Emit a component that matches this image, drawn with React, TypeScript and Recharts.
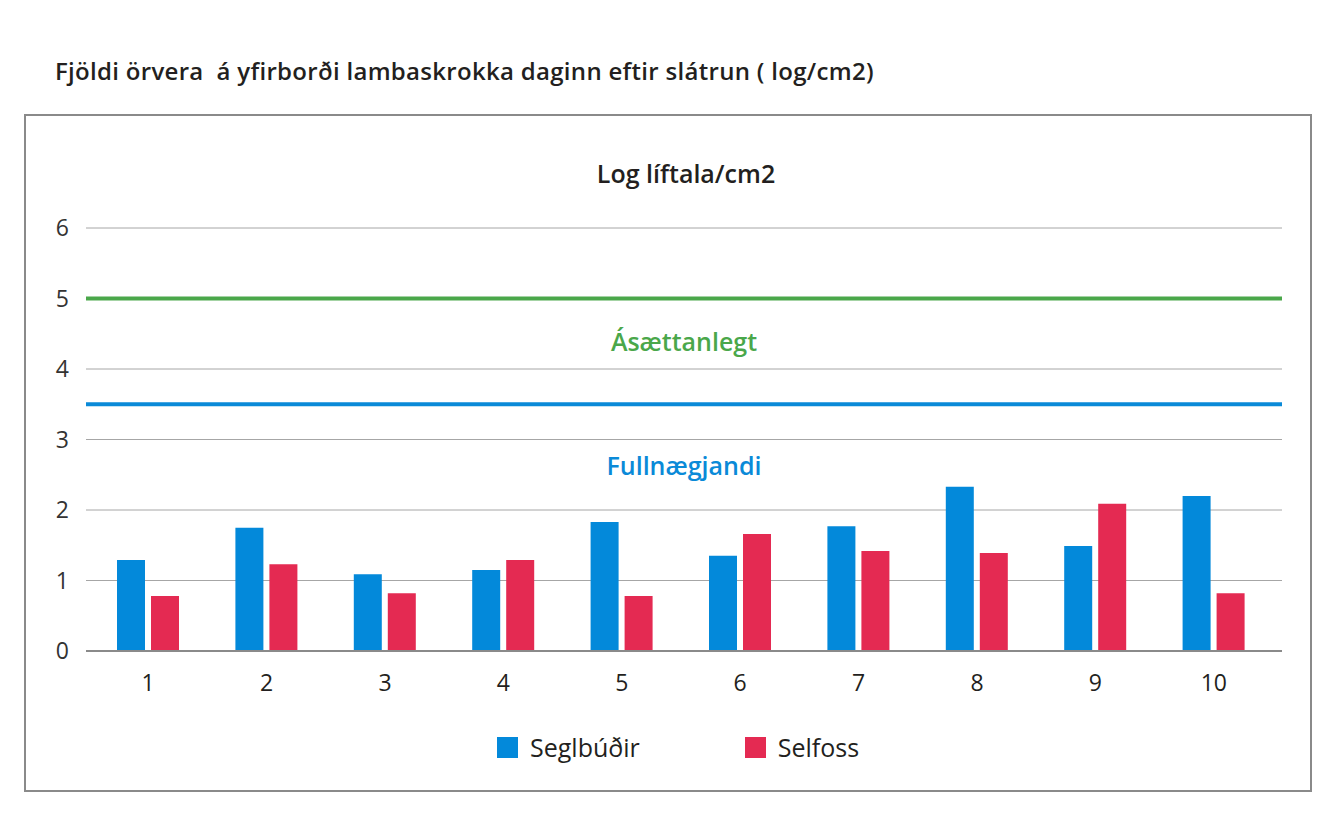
import { BarChart, Bar, XAxis, YAxis, CartesianGrid, ReferenceLine, Legend } from 'recharts'

const categories = ['1', '2', '3', '4', '5', '6', '7', '8', '9', '10']
const seglbudir = [1.29, 1.75, 1.09, 1.15, 1.83, 1.35, 1.77, 2.33, 1.49, 2.2]
const selfoss = [0.78, 1.23, 0.82, 1.29, 0.78, 1.66, 1.42, 1.39, 2.09, 0.82]
const yTicks = [0, 1, 2, 3, 4, 5, 6]

const limits = [
  { value: 5, label: 'Ásættanlegt', color: '#4aa74a', offset: 35 },
  { value: 3.5, label: 'Fullnægjandi', color: '#0a8ad8', offset: 53 },
]

const BLUE = '#0389da'
const RED = '#e42a52'
const FONT = '"Open Sans", sans-serif'

const data = categories.map((name, i) => ({ name, Seglbúðir: seglbudir[i], Selfoss: selfoss[i] }))

function LegendContent() {
  const items = [
    { name: 'Seglbúðir', color: BLUE },
    { name: 'Selfoss', color: RED },
  ]
  return (
    <div style={{ display: 'flex', alignItems: 'center', fontFamily: FONT, fontSize: 25, color: '#231f20' }}>
      {items.map((it, i) => (
        <div key={it.name} style={{ display: 'flex', alignItems: 'center', marginLeft: i === 0 ? 0 : 105 }}>
          <div style={{ width: 21, height: 21, background: it.color, marginRight: 12 }} />
          <span>{it.name}</span>
        </div>
      ))}
    </div>
  )
}

export default function App() {
  return (
    <div style={{ position: 'absolute', left: 0, top: 0, width: 1339, height: 827, background: '#fff', fontFamily: FONT }}>
      <div style={{ position: 'absolute', left: 55, top: 54, fontSize: 24, fontWeight: 600, letterSpacing: 0.3, color: '#231f20', whiteSpace: 'pre' }}>
        {'Fjöldi örvera  á yfirborði lambaskrokka daginn eftir slátrun ( log/cm2)'}
      </div>
      <div style={{ position: 'absolute', left: 24, top: 114, width: 1284, height: 674, border: '2px solid #8a8a8a' }} />
      <div style={{ position: 'absolute', left: 0, top: 156, width: 1339, textAlign: 'center', paddingLeft: 33, boxSizing: 'border-box', fontSize: 25, fontWeight: 600, color: '#231f20' }}>
        Log líftala/cm2
      </div>
      <div style={{ position: 'absolute', left: 0, top: 0 }}>
        <BarChart width={1339} height={827} data={data} margin={{ top: 228, right: 57, left: 26, bottom: 136 }} barSize={28} barGap={6}>
          <CartesianGrid vertical={false} stroke="#a6a6a6" strokeWidth={1} />
          <XAxis
            dataKey="name"
            height={40}
            padding={{ left: 3, right: 9 }}
            tickLine={false}
            tickSize={0}
            tickMargin={24}
            axisLine={{ stroke: '#8a8a8a', strokeWidth: 2 }}
            tick={{ fontSize: 23, fill: '#231f20', fontFamily: FONT }}
          />
          <YAxis
            width={60}
            domain={[0, 6]}
            ticks={yTicks}
            axisLine={false}
            tickLine={false}
            tickSize={0}
            tickMargin={17}
            tick={{ fontSize: 23, fill: '#333', fontFamily: FONT }}
          />
          {limits.map((l) => (
            <ReferenceLine
              key={l.label}
              y={l.value}
              stroke={l.color}
              strokeWidth={4}
              label={{ value: l.label, position: 'bottom', offset: l.offset, fill: l.color, fontSize: 25, fontWeight: 600, fontFamily: FONT }}
            />
          ))}
          <Legend
            layout="horizontal"
            verticalAlign="middle"
            align="center"
            content={<LegendContent />}
            wrapperStyle={{ top: 730, left: 497, width: 500, height: 32 }}
          />
          <Bar dataKey="Seglbúðir" fill={BLUE} isAnimationActive={false} />
          <Bar dataKey="Selfoss" fill={RED} isAnimationActive={false} />
        </BarChart>
      </div>
    </div>
  )
}
